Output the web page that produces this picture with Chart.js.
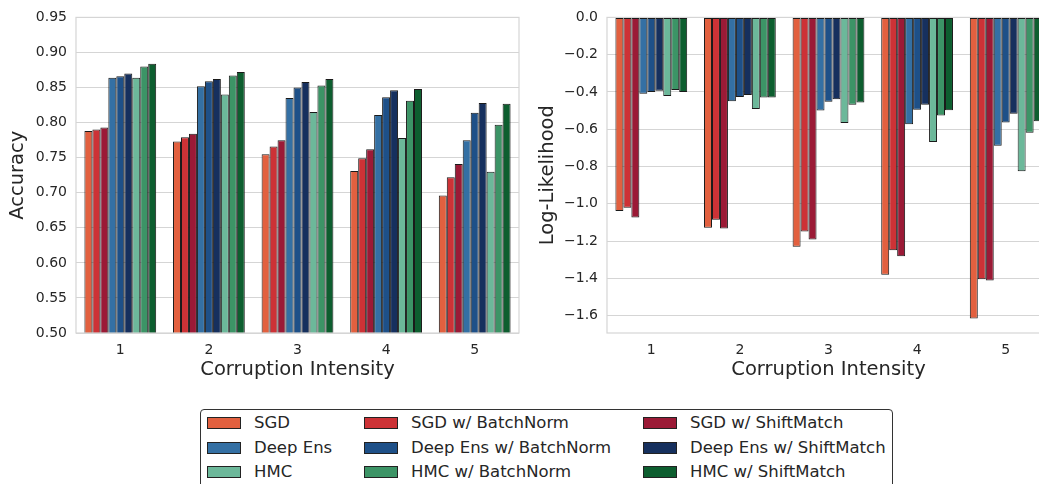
<!DOCTYPE html>
<html lang="en">
<head>
  <meta charset="UTF-8" />
  <title>Corruption Intensity</title>
  <script src="https://cdn.jsdelivr.net/npm/chart.js"></script>
  <style>
    html, body { margin: 0; padding: 0; background: #fff; overflow: hidden; }
    body { width: 1039px; height: 484px; position: relative; font-family: 'DejaVu Sans', sans-serif; }
    .box { position: absolute; top: 0; height: 390px; }
    #accBox { left: 0; width: 530px; }
    #llBox { left: 530px; width: 540px; }
    #legend {
      position: absolute; left: 200px; top: 409px; width: 693px; height: 90px;
      border: 1.5px solid #333; border-radius: 4px; box-sizing: border-box;
    }
    .item { position: absolute; height: 20px; font-size: 16.5px; color: #262626; white-space: nowrap; }
    .item .patch { position: absolute; top: 4px; width: 34px; height: 12px; border: 1px solid #222; box-sizing: border-box; }
    .item .lbl { position: absolute; left: 47px; top: 0; line-height: 20px; }
  </style>
</head>
<body>
  <div class="box" id="accBox"><canvas id="accChart"></canvas></div>
  <div class="box" id="llBox"><canvas id="llChart"></canvas></div>
  <div id="legend"></div>

  <script>
    const intensities = ['1', '2', '3', '4', '5'];

    const methods = [
      'SGD', 'SGD w/ BatchNorm', 'SGD w/ ShiftMatch',
      'Deep Ens', 'Deep Ens w/ BatchNorm', 'Deep Ens w/ ShiftMatch',
      'HMC', 'HMC w/ BatchNorm', 'HMC w/ ShiftMatch'
    ];
    const colours = [
      '#e2603f', '#cd3236', '#9b1a36',
      '#3470a4', '#1e5088', '#16305e',
      '#6cb89a', '#3c9466', '#0d5e2f'
    ];

    // accuracy per method, intensities 1..5
    const accSGD     = [0.788, 0.773, 0.755, 0.731, 0.696];
    const accSGDBN   = [0.790, 0.779, 0.766, 0.749, 0.722];
    const accSGDSM   = [0.793, 0.784, 0.775, 0.762, 0.741];
    const accDE      = [0.864, 0.852, 0.835, 0.811, 0.775];
    const accDEBN    = [0.866, 0.859, 0.850, 0.836, 0.814];
    const accDESM    = [0.870, 0.862, 0.858, 0.846, 0.828];
    const accHMC     = [0.864, 0.840, 0.815, 0.778, 0.730];
    const accHMCBN   = [0.880, 0.867, 0.853, 0.831, 0.797];
    const accHMCSM   = [0.884, 0.872, 0.862, 0.848, 0.827];

    // log-likelihood per method, intensities 1..5
    const llSGD      = [-1.039, -1.128, -1.230, -1.380, -1.615];
    const llSGDBN    = [-1.021, -1.085, -1.149, -1.249, -1.404];
    const llSGDSM    = [-1.073, -1.133, -1.192, -1.281, -1.411];
    const llDE       = [-0.410, -0.450, -0.500, -0.573, -0.689];
    const llDEBN     = [-0.400, -0.427, -0.453, -0.496, -0.564];
    const llDESM     = [-0.394, -0.416, -0.439, -0.469, -0.517];
    const llHMC      = [-0.421, -0.491, -0.566, -0.669, -0.825];
    const llHMCBN    = [-0.389, -0.430, -0.469, -0.526, -0.619];
    const llHMCSM    = [-0.400, -0.430, -0.457, -0.498, -0.557];

    const accTicks = [0.50, 0.55, 0.60, 0.65, 0.70, 0.75, 0.80, 0.85, 0.90, 0.95];
    const llTicks = [0.0, -0.2, -0.4, -0.6, -0.8, -1.0, -1.2, -1.4, -1.6];

    const accSeries = [accSGD, accSGDBN, accSGDSM, accDE, accDEBN, accDESM, accHMC, accHMCBN, accHMCSM];
    const llSeries = [llSGD, llSGDBN, llSGDSM, llDE, llDEBN, llDESM, llHMC, llHMCBN, llHMCSM];

    const FONT = "'DejaVu Sans', sans-serif";
    const TXT = '#262626';
    const GRID = '#d5d5d5';

    // outline of the plot area (matplotlib spines)
    const frame = {
      id: 'frame',
      afterDraw(chart) {
        const a = chart.chartArea, c = chart.ctx;
        c.save();
        c.strokeStyle = GRID;
        c.lineWidth = 1.2;
        c.strokeRect(a.left, a.top, a.right - a.left, a.bottom - a.top);
        c.restore();
      }
    };

    function makeDatasets(series) {
      return series.map((vals, i) => ({
        label: methods[i],
        data: vals,
        backgroundColor: colours[i],
        borderColor: '#1a1a1a',
        borderWidth: 1,
        borderSkipped: false,
        categoryPercentage: 0.81,
        barPercentage: 1.0
      }));
    }

    function makeOptions(yTitle, yMin, yMax, step, tickList, fmt, yWidth, padRight) {
      return {
        responsive: true,
        maintainAspectRatio: false,
        animation: false,
        layout: { padding: { top: 17, right: padRight, left: 0, bottom: 0 } },
        plugins: { legend: { display: false }, tooltip: { enabled: false } },
        scales: {
          x: {
            grid: { display: false, drawTicks: false },
            border: { display: false },
            ticks: { color: TXT, padding: 9, font: { family: FONT, size: 14 } },
            title: {
              display: true, text: 'Corruption Intensity', color: TXT,
              padding: { top: 0, bottom: 8 }, font: { family: FONT, size: 19.5 }
            },
            afterFit: s => { s.height = 57; }
          },
          y: {
            min: yMin, max: yMax,
            grid: { color: GRID, lineWidth: 1, drawTicks: false },
            border: { display: false },
            ticks: {
              stepSize: step, color: TXT, padding: 9,
              font: { family: FONT, size: 14 },
              callback: v => fmt(v)
            },
            afterBuildTicks: s => { s.ticks = tickList.map(v => ({ value: v })); },
            title: {
              display: true, text: yTitle, color: TXT,
              padding: { top: 6, bottom: 0 }, font: { family: FONT, size: 19.5 }
            },
            afterFit: s => { s.width = yWidth; }
          }
        }
      };
    }

    new Chart(document.getElementById('accChart'), {
      type: 'bar',
      data: { labels: intensities, datasets: makeDatasets(accSeries) },
      options: makeOptions('Accuracy', 0.5, 0.95, 0.05, accTicks, v => v.toFixed(2), 76, 11),
      plugins: [frame]
    });

    new Chart(document.getElementById('llChart'), {
      type: 'bar',
      data: { labels: intensities, datasets: makeDatasets(llSeries) },
      options: makeOptions('Log-Likelihood', -1.693, 0, 0.2, llTicks,
        v => (v < -1e-9 ? '\u2212' + Math.abs(v).toFixed(1) : '0.0'), 77, 20),
      plugins: [frame]
    });

    // legend laid out in three columns like the original figure
    const legend = document.getElementById('legend');
    const colX = [6, 163, 442];
    const rowY = [3, 27.5, 52];
    methods.forEach((name, i) => {
      const row = Math.floor(i / 3), col = i % 3;
      const el = document.createElement('div');
      el.className = 'item';
      el.style.left = colX[col] + 'px';
      el.style.top = rowY[row] + 'px';
      el.innerHTML = '<span class="patch" style="background:' + colours[i] + '"></span><span class="lbl"></span>';
      el.querySelector('.lbl').textContent = name;
      legend.appendChild(el);
    });
  </script>
</body>
</html>
